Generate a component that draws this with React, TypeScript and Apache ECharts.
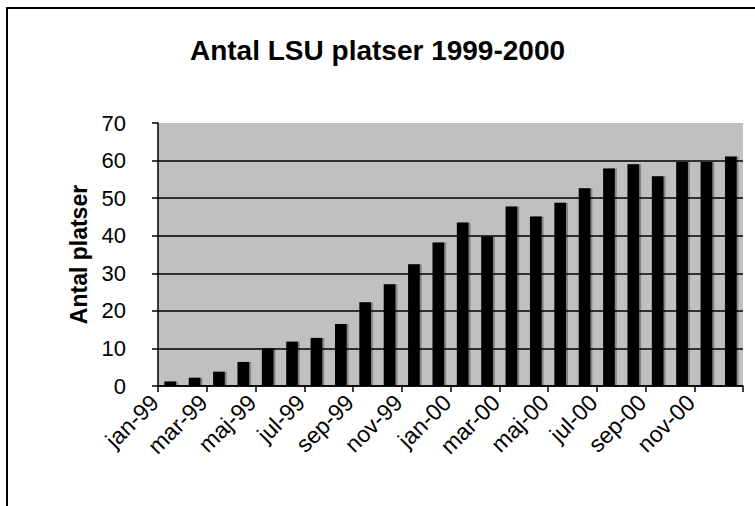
import React, { useEffect, useRef } from "react";
import * as echarts from "echarts";

const titleText = "Antal LSU platser 1999-2000";
const yAxisName = "Antal platser";
const categories = [
  "jan-99", "feb-99", "mar-99", "apr-99", "maj-99", "jun-99",
  "jul-99", "aug-99", "sep-99", "okt-99", "nov-99", "dec-99",
  "jan-00", "feb-00", "mar-00", "apr-00", "maj-00", "jun-00",
  "jul-00", "aug-00", "sep-00", "okt-00", "nov-00", "dec-00",
];
const values = [
  1.2, 2.2, 3.8, 6.4, 10, 11.8, 12.8, 16.5, 22.3, 27.1, 32.4, 38.2,
  43.5, 39.8, 47.8, 45.1, 48.8, 52.6, 57.9, 59, 55.8, 59.6, 59.6, 61.1,
];
const yMin = 0;
const yMax = 70;
const yInterval = 10;

const FONT = "'Liberation Sans', Arial, sans-serif";

export default function App() {
  const ref = useRef<HTMLDivElement>(null);
  useEffect(() => {
    if (!ref.current) return;
    const chart = echarts.init(ref.current, undefined, { renderer: "svg" });
    chart.setOption({
      animation: false,
      backgroundColor: "#ffffff",
      textStyle: { fontFamily: FONT },
      title: {
        text: titleText,
        left: "center",
        top: 31,
        textStyle: { fontFamily: FONT, fontSize: 28, fontWeight: "bold", color: "#000" },
      },
      graphic: [
        {
          type: "rect",
          shape: { x: 7, y: 8, width: 900, height: 700 },
          style: { fill: "none", stroke: "#000", lineWidth: 2 },
          silent: true,
        },
      ],
      grid: {
        left: 158,
        right: 12,
        top: 123,
        bottom: 120,
        show: true,
        backgroundColor: "#c0c0c0",
        borderWidth: 0,
      },
      xAxis: {
        type: "category",
        data: categories,
        boundaryGap: true,
        axisLine: { show: true, lineStyle: { color: "#000", width: 1.5 } },
        axisTick: { show: true, interval: 1, length: 6, lineStyle: { color: "#000", width: 1.5 } },
        axisLabel: {
          interval: 1,
          rotate: 45,
          fontSize: 23,
          lineHeight: 24,
          fontFamily: FONT,
          color: "#000",
          margin: 28,
          verticalAlign: "bottom",
          padding: [0, 0, 10, 0],
        },
        splitLine: { show: false },
      },
      yAxis: {
        type: "value",
        min: yMin,
        max: yMax,
        interval: yInterval,
        name: yAxisName,
        nameLocation: "middle",
        nameRotate: 90,
        nameGap: 62,
        nameTextStyle: { fontFamily: FONT, fontSize: 23, fontWeight: "bold", color: "#000" },
        axisLine: { show: true, lineStyle: { color: "#000", width: 1.5 } },
        axisTick: { show: true, length: 6, lineStyle: { color: "#000", width: 1.5 } },
        axisLabel: { fontSize: 22, fontFamily: FONT, color: "#000", margin: 32 },
        splitLine: { show: true, showMaxLine: false, lineStyle: { color: "#000", width: 1.5 } },
      },
      series: [
        {
          type: "bar",
          data: values,
          barWidth: "48%",
          itemStyle: {
            color: "#000",
            shadowColor: "rgba(0,0,0,0.3)",
            shadowOffsetX: 2,
            shadowOffsetY: 0,
            shadowBlur: 0,
          },
        },
      ],
    });
    return () => chart.dispose();
  }, []);
  return (
    <div
      ref={ref}
      style={{ position: "fixed", left: 0, top: 0, width: 755, height: 506 }}
    />
  );
}
